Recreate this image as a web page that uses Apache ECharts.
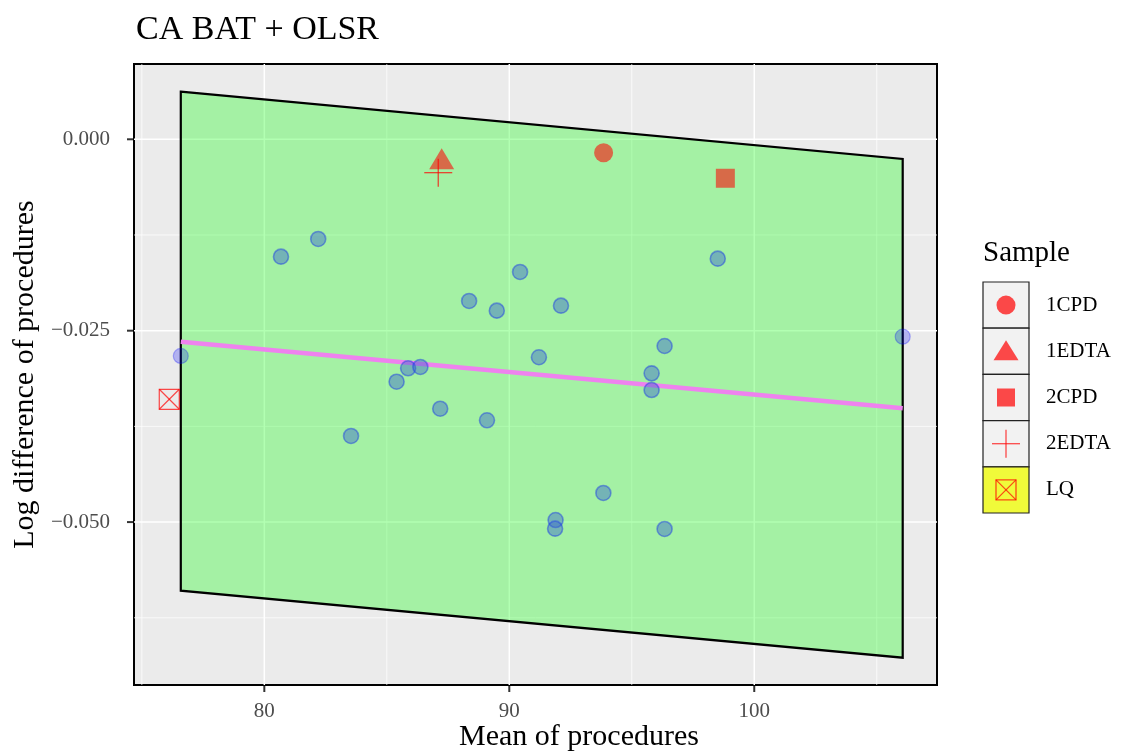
<!DOCTYPE html>
<html><head><meta charset="utf-8">
<script src="https://cdn.jsdelivr.net/npm/echarts@6/dist/echarts.min.js"></script>
<style>html,body{margin:0;padding:0;background:#fff}#c{width:1121px;height:751px}</style>
</head><body><div id="c"></div>
<script>
const chartTitle = 'CA BAT + OLSR';
const xName = 'Mean of procedures';
const yName = 'Log difference of procedures';
const legendTitle = 'Sample';
const legendLabels = ['1CPD', '1EDTA', '2CPD', '2EDTA', 'LQ'];
const xTickLabels = [80, 90, 100];
const xMinorTicks = [75, 85, 95, 105];
const yTickLabels = [0, -0.025, -0.05];
const yMinorTicks = [-0.0125, -0.0375, -0.0625];
const bluePoints = [
  [82.20, -0.01302], [80.68, -0.01533], [88.36, -0.02112], [89.49, -0.02238],
  [90.44, -0.01733], [91.21, -0.02847], [85.87, -0.02991], [86.37, -0.02974],
  [85.40, -0.03166], [98.51, -0.01559], [92.11, -0.02173], [96.34, -0.02700],
  [95.81, -0.03057], [95.81, -0.03275], [83.54, -0.03875], [87.18, -0.03519],
  [89.09, -0.03670], [93.84, -0.04620], [91.89, -0.04973], [91.87, -0.05086],
  [96.34, -0.05090]
];
const edgePoints = [[76.59, -0.02830], [106.06, -0.02578]];
const sample1CPD = [[93.85, -0.00175]];
const sample1EDTA = [[87.24, -0.00255]];
const sample2CPD = [[98.82, -0.00509]];
const sample2EDTA = [[87.10, -0.00436]];
const sampleLQ = [[76.12, -0.03396]];
const regionPolygon = [[76.59, 0.00622], [106.06, -0.00257], [106.06, -0.06771], [76.59, -0.05896]];
const olsLine = [[76.59, -0.02644], [106.06, -0.03514]];

const X_MIN = 74.68, X_MAX = 107.46, Y_MIN = -0.07128, Y_MAX = 0.009835;
const FONT = '"Liberation Serif", "DejaVu Serif", serif';
const RED = 'rgba(255,0,0,0.7)';

function vGrid(w) {
  return function (params, api) {
    const x = api.value(0);
    const a = api.coord([x, Y_MAX]), b = api.coord([x, Y_MIN]);
    return { type: 'line', shape: { x1: a[0], y1: a[1], x2: b[0], y2: b[1] }, style: { stroke: '#fff', lineWidth: w } };
  };
}
function hGrid(w) {
  return function (params, api) {
    const y = api.value(1);
    const a = api.coord([X_MIN, y]), b = api.coord([X_MAX, y]);
    return { type: 'line', shape: { x1: a[0], y1: a[1], x2: b[0], y2: b[1] }, style: { stroke: '#fff', lineWidth: w } };
  };
}

const chart = echarts.init(document.getElementById('c'));

// legend + x-axis title graphics
const lgX = 983, lgY = 282, lgW = 46, lgH = 46.2;
const extraGraphics = [
  { type: 'text', x: 983, y: 253, style: { text: legendTitle, font: '29px ' + FONT, fill: '#000', textVerticalAlign: 'middle' } },
  { type: 'text', x: 579, y: 737, style: { text: xName, font: '30px ' + FONT, fill: '#000', textAlign: 'center', textVerticalAlign: 'middle' } }
];
legendLabels.forEach(function (lab, i) {
  const y0 = lgY + i * lgH, cx = lgX + lgW / 2, cy = y0 + lgH / 2;
  extraGraphics.push({ type: 'rect', shape: { x: lgX, y: y0, width: lgW, height: lgH },
    style: { fill: lab === 'LQ' ? '#f0fa3a' : '#f2f2f2', stroke: '#222', lineWidth: 1.2 } });
  let sym;
  if (lab === '1CPD') sym = { type: 'circle', shape: { cx: cx, cy: cy, r: 9.5 }, style: { fill: RED } };
  else if (lab === '1EDTA') sym = { type: 'polygon', shape: { points: [[cx, cy - 11], [cx + 12.5, cy + 9], [cx - 12.5, cy + 9]] }, style: { fill: RED } };
  else if (lab === '2CPD') sym = { type: 'rect', shape: { x: cx - 9, y: cy - 9, width: 18, height: 18 }, style: { fill: RED } };
  else if (lab === '2EDTA') sym = { type: 'group', children: [
      { type: 'line', shape: { x1: cx - 14, y1: cy, x2: cx + 14, y2: cy }, style: { stroke: RED, lineWidth: 1.3 } },
      { type: 'line', shape: { x1: cx, y1: cy - 14, x2: cx, y2: cy + 14 }, style: { stroke: RED, lineWidth: 1.3 } }] };
  else sym = { type: 'group', children: [
      { type: 'rect', shape: { x: cx - 10, y: cy - 10, width: 20, height: 20 }, style: { fill: 'none', stroke: RED, lineWidth: 1.3 } },
      { type: 'line', shape: { x1: cx - 10, y1: cy - 10, x2: cx + 10, y2: cy + 10 }, style: { stroke: RED, lineWidth: 1.3 } },
      { type: 'line', shape: { x1: cx + 10, y1: cy - 10, x2: cx - 10, y2: cy + 10 }, style: { stroke: RED, lineWidth: 1.3 } }] };
  extraGraphics.push(sym);
  extraGraphics.push({ type: 'text', x: 1046, y: cy, style: { text: lab, font: '21px ' + FONT, fill: '#000', textVerticalAlign: 'middle' } });
});

const option = {
  backgroundColor: '#fff',
  animation: false,
  title: { text: chartTitle, left: 131, top: 8, textStyle: { fontFamily: FONT, fontSize: 34, fontWeight: 'normal', color: '#000' } },
  grid: { left: 134, top: 64, width: 803, height: 621, show: true, backgroundColor: '#EBEBEB', borderColor: '#000', borderWidth: 2,
    outerBoundsMode: 'none', containLabel: false },
  xAxis: {
    type: 'value', min: X_MIN, max: X_MAX,
    axisLine: { show: true, onZero: false, lineStyle: { color: '#000', width: 2 } }, splitLine: { show: false },
    axisTick: { show: false },
    axisLabel: { customValues: xTickLabels, margin: 16, fontFamily: FONT, fontSize: 21, color: '#4d4d4d' }
  },
  yAxis: {
    type: 'value', min: Y_MIN, max: Y_MAX,
    name: yName, nameLocation: 'middle', nameGap: 91,
    nameTextStyle: { fontFamily: FONT, fontSize: 30, color: '#000' },
    axisLine: { show: true, onZero: false, lineStyle: { color: '#000', width: 2 } }, splitLine: { show: false },
    axisTick: { show: false },
    axisLabel: { customValues: yTickLabels, margin: 24, fontFamily: FONT, fontSize: 21, color: '#4d4d4d',
      formatter: function (v) { return v === 0 ? '0.000' : (v < 0 ? '\u2212' : '') + Math.abs(v).toFixed(3); } }
  },
  graphic: extraGraphics,
  series: [
    { type: 'custom', name: 'gx-minor', z: 1, silent: true, renderItem: vGrid(0.7), data: xMinorTicks.map(v => [v, 0]), encode: { x: 0, y: 1 } },
    { type: 'custom', name: 'gy-minor', z: 1, silent: true, renderItem: hGrid(0.7), data: yMinorTicks.map(v => [80, v]), encode: { x: 0, y: 1 } },
    { type: 'custom', name: 'gx-major', z: 1, silent: true, renderItem: vGrid(1.5), data: xTickLabels.map(v => [v, 0]), encode: { x: 0, y: 1 } },
    { type: 'custom', name: 'gy-major', z: 1, silent: true, renderItem: hGrid(1.5), data: yTickLabels.map(v => [80, v]), encode: { x: 0, y: 1 } },
    { type: 'custom', name: 'region', z: 2, silent: true, data: [regionPolygon[0]], encode: { x: 0, y: 1 },
      renderItem: function (params, api) {
        return { type: 'polygon', shape: { points: regionPolygon.map(p => api.coord(p)) },
          style: { fill: 'rgba(0,255,0,0.3)', stroke: '#000', lineWidth: 2.2, lineJoin: 'miter' } };
      } },
    { type: 'line', name: 'OLS', z: 3, data: olsLine, symbol: 'none', silent: true, lineStyle: { color: '#EE82EE', width: 4.5 } },
    { type: 'scatter', name: 'points', z: 4, data: bluePoints, symbolSize: 15, silent: true,
      itemStyle: { color: 'rgba(55,100,205,0.55)', borderColor: 'rgba(30,60,230,0.6)', borderWidth: 1.6 } },
    { type: 'scatter', name: 'edge', z: 5, data: edgePoints, symbolSize: 15, silent: true,
      itemStyle: { color: 'rgba(0,0,255,0.3)', borderColor: 'rgba(0,0,255,0.35)', borderWidth: 1.2 } },
    { type: 'scatter', name: '1CPD', z: 6, data: sample1CPD, symbol: 'circle', symbolSize: 19, silent: true, itemStyle: { color: RED } },
    { type: 'scatter', name: '1EDTA', z: 6, data: sample1EDTA, symbol: 'triangle', symbolSize: [25, 21], silent: true, itemStyle: { color: RED } },
    { type: 'scatter', name: '2CPD', z: 6, data: sample2CPD, symbol: 'rect', symbolSize: 19, silent: true, itemStyle: { color: RED } },
    { type: 'custom', name: '2EDTA', z: 6, silent: true, data: sample2EDTA, encode: { x: 0, y: 1 },
      renderItem: function (params, api) {
        const c = api.coord([api.value(0), api.value(1)]);
        return { type: 'group', children: [
          { type: 'line', shape: { x1: c[0] - 14, y1: c[1], x2: c[0] + 14, y2: c[1] }, style: { stroke: RED, lineWidth: 1.3 } },
          { type: 'line', shape: { x1: c[0], y1: c[1] - 14, x2: c[0], y2: c[1] + 14 }, style: { stroke: RED, lineWidth: 1.3 } }] };
      } },
    { type: 'custom', name: 'LQ', z: 6, silent: true, data: sampleLQ, encode: { x: 0, y: 1 },
      renderItem: function (params, api) {
        const c = api.coord([api.value(0), api.value(1)]);
        const h = 10;
        return { type: 'group', children: [
          { type: 'rect', shape: { x: c[0] - h, y: c[1] - h, width: 2 * h, height: 2 * h }, style: { fill: 'none', stroke: RED, lineWidth: 1.2 } },
          { type: 'line', shape: { x1: c[0] - h, y1: c[1] - h, x2: c[0] + h, y2: c[1] + h }, style: { stroke: RED, lineWidth: 1.2 } },
          { type: 'line', shape: { x1: c[0] + h, y1: c[1] - h, x2: c[0] - h, y2: c[1] + h }, style: { stroke: RED, lineWidth: 1.2 } }] };
      } }
  ]
};
chart.setOption(option);

// axis tick marks, placed through the chart's own scales
const tickGraphics = [];
xTickLabels.forEach(function (v) {
  const p = chart.convertToPixel({ gridIndex: 0 }, [v, Y_MIN]);
  tickGraphics.push({ type: 'line', z: 50, shape: { x1: p[0], y1: p[1] + 1, x2: p[0], y2: p[1] + 7 }, style: { stroke: '#333', lineWidth: 2 } });
});
yTickLabels.forEach(function (v) {
  const p = chart.convertToPixel({ gridIndex: 0 }, [X_MIN, v]);
  tickGraphics.push({ type: 'line', z: 50, shape: { x1: p[0] - 1, y1: p[1], x2: p[0] - 7, y2: p[1] }, style: { stroke: '#333', lineWidth: 2 } });
});
chart.setOption({ graphic: extraGraphics.concat(tickGraphics) });
</script>
</body></html>
